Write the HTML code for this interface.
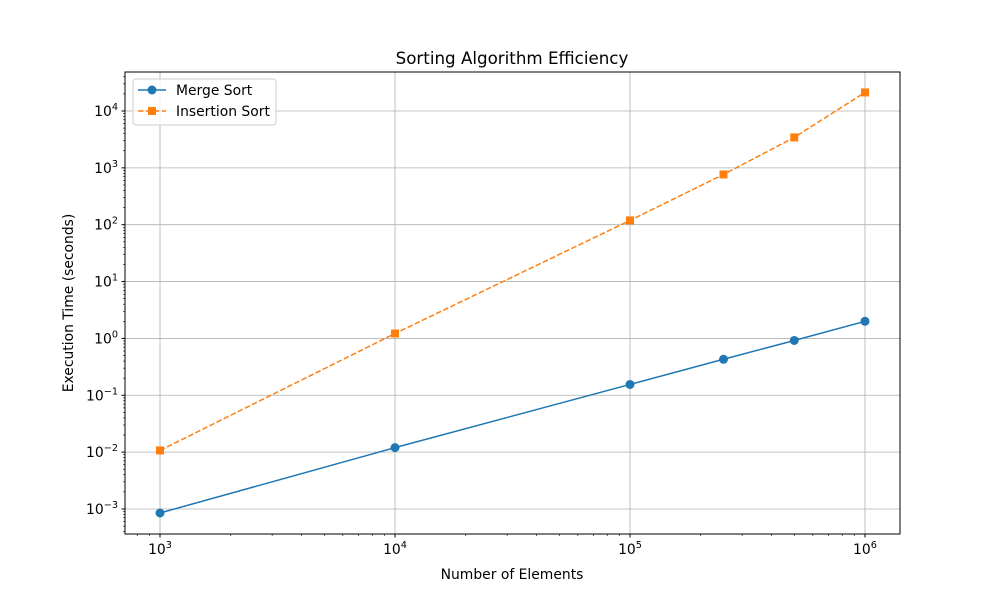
<!DOCTYPE html>
<html><head><meta charset="utf-8"><style>
body{margin:0;background:#fff;font-family:"Liberation Sans","DejaVu Sans",sans-serif}
svg text{font-family:"DejaVu Sans","Liberation Sans",sans-serif}
</style></head><body>
<svg id="chart" width="1000" height="600" viewBox="0 0 1000 600" xmlns="http://www.w3.org/2000/svg">
<rect width="1000" height="600" fill="#fff"/>
<text x="512" y="64" text-anchor="middle" font-size="16.7">Sorting Algorithm Efficiency</text>
<text x="512" y="579" text-anchor="middle" font-size="13.9">Number of Elements</text>
<text transform="translate(73,303) rotate(-90)" text-anchor="middle" font-size="13.9">Execution Time (seconds)</text>
<g id="grid"></g><g id="ticks"></g><g id="series"></g>
<rect x="125" y="72" width="775" height="462" fill="none" stroke="#000" stroke-width="1"/>
<g>
<rect x="133" y="79" width="143" height="46" rx="3" fill="#fff" fill-opacity="0.8" stroke="#ccc"/>
<line x1="138" y1="90" x2="166" y2="90" stroke="#1f77b4" stroke-width="1.5"/><circle cx="152" cy="90" r="4.5" fill="#1f77b4"/>
<text x="176" y="95" font-size="13.9">Merge Sort</text>
<line x1="138" y1="111" x2="166" y2="111" stroke="#ff7f0e" stroke-width="1.5" stroke-dasharray="5.5,2.4"/><rect x="148" y="107" width="8" height="8" fill="#ff7f0e"/>
<text x="176" y="116" font-size="13.9">Insertion Sort</text>
</g>
</svg>
<script>
const sizes=[1000,10000,100000,250000,500000,1000000];
const mergeTimes=[0.00085,0.012,0.155,0.43,0.92,2.0];
const insertionTimes=[0.0107,1.22,119,765,3430,21200];
const xTickExps=[3,4,5,6];
const yTickExps=[-3,-2,-1,0,1,2,3,4];
const NS="http://www.w3.org/2000/svg";
const X0=125,X1=900,Y0=72,Y1=534;
const xmin=2.851,xmax=6.149,ymin=-3.44,ymax=4.686;
const sx=v=>X0+(Math.log10(v)-xmin)/(xmax-xmin)*(X1-X0);
const sy=v=>Y1-(Math.log10(v)-ymin)/(ymax-ymin)*(Y1-Y0);
function mk(t,a,p){const e=document.createElementNS(NS,t);for(const k in a)e.setAttribute(k,a[k]);p.appendChild(e);return e;}
const G=document.getElementById('grid'),T=document.getElementById('ticks'),S=document.getElementById('series');
xTickExps.forEach(e=>{const x=sx(Math.pow(10,e));
 const g=mk('line',{x1:x,x2:x,y1:Y0,y2:Y1,stroke:'#b0b0b0','stroke-width':0.8},G);
 
 mk('line',{x1:x,x2:x,y1:Y1,y2:Y1+3.5,stroke:'#000'},T);
 const t=mk('text',{x:x,y:Y1+20,'text-anchor':'middle','font-size':13.9},T);
 
 t.innerHTML='10<tspan dy="-6" font-size="9.7">'+e+'</tspan>';});
for(let e=2;e<=6;e++)for(let m=2;m<=9;m++){const v=m*Math.pow(10,e),l=Math.log10(v);if(l<xmin||l>xmax)continue;const x=sx(v);mk('line',{x1:x,x2:x,y1:Y1,y2:Y1+2,stroke:'#000','stroke-width':0.6},T);}
yTickExps.forEach(e=>{const y=sy(Math.pow(10,e));
 const g=mk('line',{x1:X0,x2:X1,y1:y,y2:y,stroke:'#b0b0b0','stroke-width':0.8},G);
 
 mk('line',{x1:X0-3.5,x2:X0,y1:y,y2:y,stroke:'#000'},T);
 const t=mk('text',{x:X0-7,y:y+5,'text-anchor':'end','font-size':13.9},T);
 
 t.innerHTML='10<tspan dy="-6" font-size="9.7">'+(e<0?'\u2212'+(-e):e)+'</tspan>';});
for(let e=-4;e<=4;e++)for(let m=2;m<=9;m++){const v=m*Math.pow(10,e),l=Math.log10(v);if(l<ymin||l>ymax)continue;const y=sy(v);mk('line',{x1:X0-2,x2:X0,y1:y,y2:y,stroke:'#000','stroke-width':0.6},T);}
function series(vals,color,dash,marker,name){
 const pts=sizes.map((s,i)=>sx(s)+','+sy(vals[i])).join(' ');
 const pl=mk('polyline',{points:pts,fill:'none',stroke:color,'stroke-width':1.5},S);
 if(dash)pl.setAttribute('stroke-dasharray',dash);
 
 sizes.forEach((s,i)=>{const x=sx(s),y=sy(vals[i]);let m;
  if(marker==='o')m=mk('circle',{cx:x,cy:y,r:4.5,fill:color},S);
  else m=mk('rect',{x:x-4,y:y-4,width:8,height:8,fill:color},S);
  });
}
series(mergeTimes,'#1f77b4',null,'o','merge-sort');
series(insertionTimes,'#ff7f0e','5.5,2.4','s','insertion-sort');
</script>
</body></html>
